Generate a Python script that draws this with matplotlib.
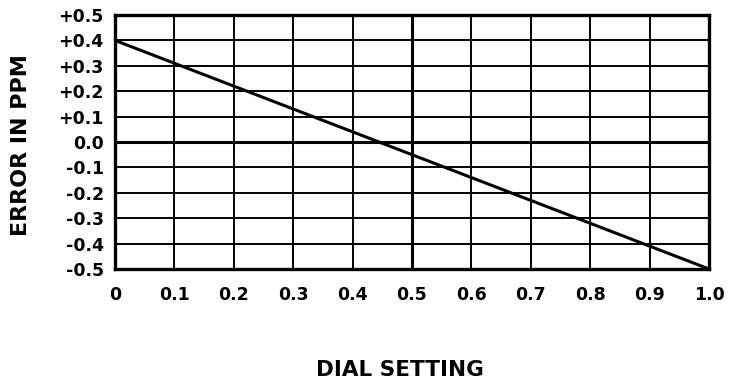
import numpy as np
import matplotlib.pyplot as plt

# dial setting vs error
dial = [0.0, 1.0]
error_ppm = [0.4, -0.5]

xticks = [0, 0.1, 0.2, 0.3, 0.4, 0.5, 0.6, 0.7, 0.8, 0.9, 1.0]
xlabels = ['0', '0.1', '0.2', '0.3', '0.4', '0.5', '0.6', '0.7', '0.8', '0.9', '1.0']
yticks = [0.5, 0.4, 0.3, 0.2, 0.1, 0.0, -0.1, -0.2, -0.3, -0.4, -0.5]
ylabels = ['+0.5', '+0.4', '+0.3', '+0.2', '+0.1', '0.0', '-0.1', '-0.2', '-0.3', '-0.4', '-0.5']

plt.rcParams['font.family'] = 'DejaVu Sans'
plt.rcParams['font.weight'] = 'bold'

fig = plt.figure(figsize=(7.32, 3.84), dpi=100)
ax = fig.add_axes([0.157, 0.2995, 0.8116, 0.6615])

# grid
for x in xticks[1:-1]:
    ax.axvline(x, color='black', lw=2.2 if x == 0.5 else 1.4, zorder=1)
for y in yticks[1:-1]:
    ax.axhline(y, color='black', lw=2.2 if y == 0.0 else 1.4, zorder=1)

ax.plot(dial, error_ppm, color='black', lw=2.2, zorder=3)

ax.set_xlim(0, 1.0)
ax.set_ylim(-0.5, 0.5)
ax.set_xticks(xticks)
ax.set_xticklabels(xlabels)
ax.set_yticks(yticks)
ax.set_yticklabels(ylabels)
ax.tick_params(length=0, labelsize=12.5)
ax.tick_params(axis='x', pad=12)
ax.tick_params(axis='y', pad=8)
for lab in ax.get_xticklabels() + ax.get_yticklabels():
    lab.set_fontweight('bold')
for s in ax.spines.values():
    s.set_linewidth(2.4)

fig.text(0.029, 0.621, 'ERROR IN PPM', fontsize=16, fontweight='bold',
         rotation=90, ha='center', va='center')
fig.text(0.546, 0.036, 'DIAL SETTING', fontsize=15.5, fontweight='bold',
         ha='center', va='center')

fig.savefig('out.png', dpi=100)
